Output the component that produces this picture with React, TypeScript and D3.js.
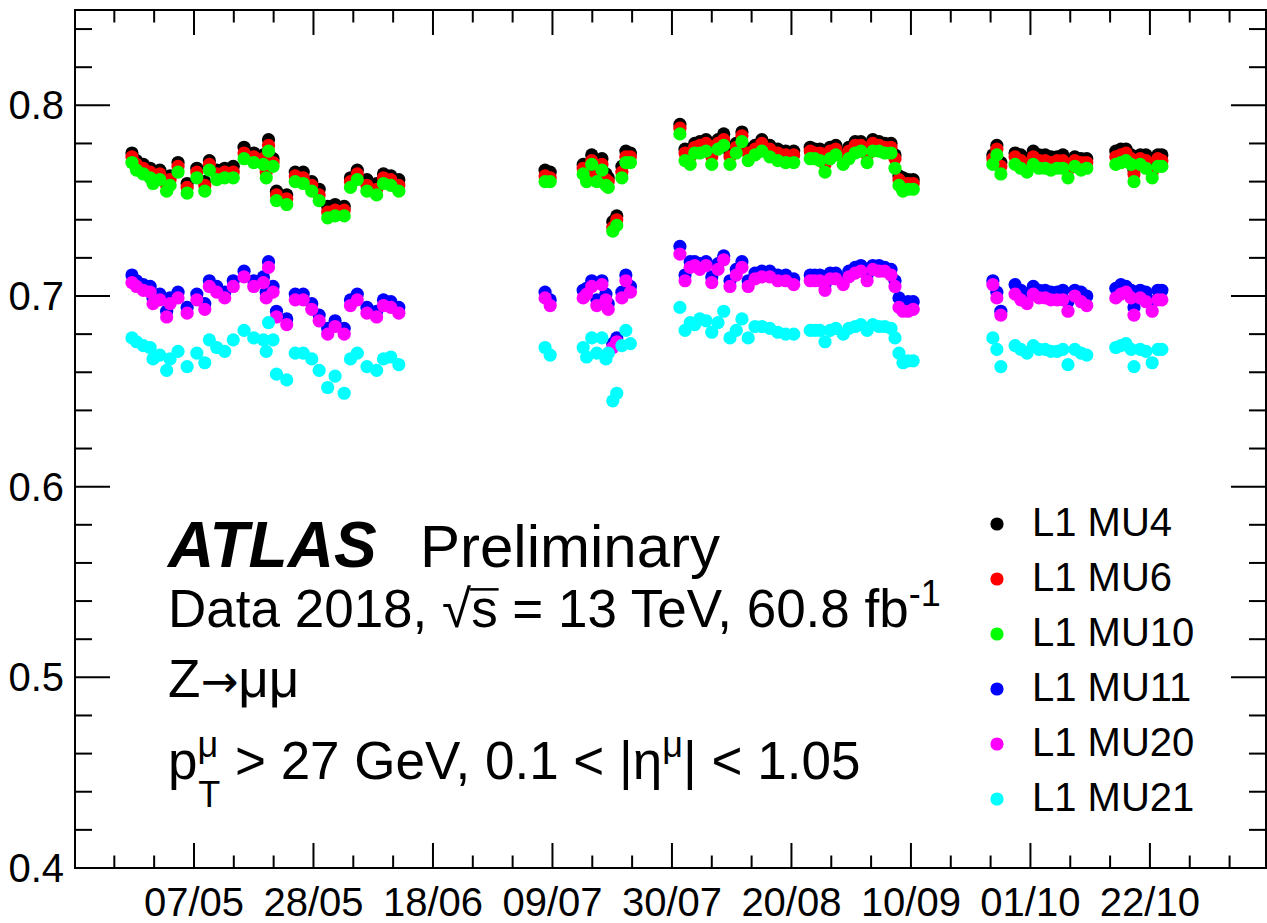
import React, { useEffect, useRef, useState } from "react";
import * as d3 from "d3";

// run day of year 2018 (fractional)
const runDays = [
  // April - June
  116.1, 116.9, 118.1, 119.3, 119.8, 121.0, 122.2, 122.8, 124.2, 125.8, 127.5, 128.9, 129.7,
  131.0, 132.4, 133.9, 135.8, 137.5, 139.2, 139.7, 140.1, 140.9, 141.5, 143.3, 144.8, 146.2,
  147.7, 149.0, 150.5, 151.8, 153.4, 154.5, 155.7, 157.4, 159.1, 160.3, 161.6, 163.0,
  // July
  188.7, 189.6, 195.4, 196.0, 196.9, 197.8, 198.7, 199.4, 199.8, 200.6, 201.3, 202.2, 202.9, 203.7,
  // August - September
  212.4, 213.3, 214.2, 215.0, 215.9, 217.0, 218.0, 219.1, 220.1, 221.2, 222.3, 223.3, 224.4,
  225.6, 226.8, 228.2, 229.6, 231.0, 232.4,
  235.3, 236.1, 237.0, 237.9, 238.8, 239.8, 241.1, 242.1, 243.2, 244.2, 245.3, 246.3, 247.4,
  248.4, 249.5, 250.2, 250.9, 251.6, 252.5, 253.4,
  // late September - October
  267.4, 268.1, 268.8, 271.3, 272.3, 273.4, 274.5, 275.5, 276.6, 277.6, 278.7, 279.7, 280.6,
  281.8, 282.9, 283.9, 289.0, 289.9, 290.8, 291.7, 292.2, 293.3, 294.3, 295.4, 296.4, 297.1,
];

const effMU4 = [
  0.775, 0.771, 0.769, 0.767, 0.764, 0.766, 0.760, 0.763, 0.770, 0.759, 0.767, 0.760, 0.771,
  0.766, 0.767, 0.768, 0.778, 0.775, 0.774, 0.767, 0.782, 0.772, 0.755, 0.753, 0.765, 0.765,
  0.760, 0.756, 0.747, 0.748, 0.747, 0.762, 0.766, 0.761, 0.759, 0.764, 0.763, 0.761,
  0.766, 0.765, 0.769, 0.765, 0.774, 0.766, 0.772, 0.764, 0.762, 0.739, 0.742, 0.768, 0.776, 0.775,
  0.790, 0.777, 0.775, 0.780, 0.781, 0.782, 0.775, 0.782, 0.785, 0.775, 0.780, 0.786, 0.777,
  0.779, 0.782, 0.779, 0.777, 0.776, 0.776,
  0.778, 0.777, 0.777, 0.771, 0.778, 0.779, 0.775, 0.778, 0.781, 0.781, 0.776, 0.782, 0.781,
  0.780, 0.780, 0.774, 0.763, 0.762, 0.761, 0.761,
  0.774, 0.779, 0.770, 0.775, 0.774, 0.772, 0.776, 0.774, 0.774, 0.773, 0.773, 0.774, 0.770,
  0.773, 0.772, 0.772, 0.776, 0.777, 0.777, 0.774, 0.766, 0.774, 0.774, 0.767, 0.774, 0.774,
];

const effMU6 = [
  0.773, 0.769, 0.767, 0.765, 0.762, 0.764, 0.758, 0.761, 0.768, 0.757, 0.765, 0.758, 0.769,
  0.764, 0.765, 0.765, 0.775, 0.773, 0.772, 0.765, 0.779, 0.770, 0.753, 0.751, 0.763, 0.762,
  0.758, 0.753, 0.744, 0.745, 0.745, 0.760, 0.764, 0.758, 0.756, 0.762, 0.761, 0.758,
  0.763, 0.762, 0.767, 0.763, 0.771, 0.763, 0.769, 0.761, 0.760, 0.736, 0.740, 0.765, 0.773, 0.773,
  0.788, 0.775, 0.773, 0.778, 0.779, 0.780, 0.773, 0.780, 0.782, 0.773, 0.778, 0.784, 0.775,
  0.777, 0.780, 0.777, 0.775, 0.774, 0.774,
  0.776, 0.775, 0.775, 0.769, 0.776, 0.777, 0.773, 0.776, 0.779, 0.779, 0.774, 0.780, 0.779,
  0.778, 0.778, 0.772, 0.761, 0.759, 0.759, 0.759,
  0.772, 0.777, 0.768, 0.773, 0.771, 0.769, 0.773, 0.771, 0.771, 0.770, 0.771, 0.771, 0.766,
  0.771, 0.770, 0.770, 0.773, 0.774, 0.775, 0.772, 0.764, 0.772, 0.771, 0.765, 0.772, 0.771,
];

const effMU10 = [
  0.770, 0.766, 0.764, 0.762, 0.759, 0.761, 0.755, 0.758, 0.765, 0.754, 0.762, 0.755, 0.766,
  0.761, 0.762, 0.762, 0.772, 0.770, 0.769, 0.762, 0.776, 0.768, 0.750, 0.748, 0.760, 0.759,
  0.755, 0.750, 0.741, 0.742, 0.742, 0.757, 0.761, 0.755, 0.753, 0.759, 0.758, 0.755,
  0.760, 0.760, 0.764, 0.760, 0.769, 0.760, 0.766, 0.758, 0.757, 0.734, 0.737, 0.762, 0.770, 0.770,
  0.785, 0.771, 0.769, 0.775, 0.775, 0.776, 0.769, 0.777, 0.779, 0.769, 0.775, 0.781, 0.771,
  0.774, 0.776, 0.773, 0.771, 0.770, 0.770,
  0.772, 0.772, 0.771, 0.765, 0.772, 0.774, 0.769, 0.772, 0.775, 0.776, 0.770, 0.776, 0.776,
  0.775, 0.775, 0.767, 0.758, 0.755, 0.756, 0.756,
  0.769, 0.774, 0.764, 0.769, 0.767, 0.765, 0.769, 0.767, 0.767, 0.766, 0.767, 0.767, 0.762,
  0.768, 0.766, 0.767, 0.769, 0.770, 0.771, 0.769, 0.760, 0.769, 0.767, 0.762, 0.768, 0.768,
];

const effMU11 = [
  0.711, 0.708, 0.706, 0.705, 0.699, 0.701, 0.692, 0.699, 0.702, 0.694, 0.701, 0.696, 0.708,
  0.705, 0.702, 0.708, 0.713, 0.708, 0.710, 0.702, 0.718, 0.705, 0.692, 0.688, 0.701, 0.701,
  0.696, 0.690, 0.683, 0.687, 0.683, 0.698, 0.701, 0.694, 0.692, 0.698, 0.697, 0.694,
  0.702, 0.698, 0.703, 0.704, 0.708, 0.698, 0.708, 0.701, 0.696, 0.675, 0.678, 0.702, 0.711, 0.705,
  0.726, 0.711, 0.718, 0.718, 0.717, 0.718, 0.710, 0.717, 0.721, 0.708, 0.714, 0.718, 0.708,
  0.712, 0.713, 0.713, 0.711, 0.711, 0.709,
  0.711, 0.711, 0.711, 0.706, 0.712, 0.712, 0.709, 0.713, 0.715, 0.716, 0.711, 0.716, 0.716,
  0.715, 0.714, 0.708, 0.699, 0.696, 0.697, 0.697,
  0.708, 0.702, 0.692, 0.706, 0.703, 0.701, 0.705, 0.703, 0.703, 0.702, 0.702, 0.703, 0.697,
  0.703, 0.702, 0.700, 0.704, 0.706, 0.705, 0.703, 0.694, 0.703, 0.702, 0.697, 0.703, 0.703,
];

const effMU20 = [
  0.707, 0.705, 0.703, 0.702, 0.696, 0.698, 0.689, 0.696, 0.699, 0.691, 0.698, 0.693, 0.705,
  0.702, 0.699, 0.705, 0.710, 0.705, 0.707, 0.699, 0.715, 0.702, 0.689, 0.685, 0.698, 0.698,
  0.693, 0.687, 0.680, 0.684, 0.680, 0.695, 0.698, 0.691, 0.689, 0.695, 0.694, 0.691,
  0.699, 0.695, 0.699, 0.701, 0.705, 0.695, 0.706, 0.698, 0.693, 0.673, 0.676, 0.699, 0.708, 0.702,
  0.722, 0.708, 0.715, 0.716, 0.714, 0.716, 0.707, 0.714, 0.719, 0.705, 0.711, 0.715, 0.705,
  0.709, 0.710, 0.710, 0.708, 0.708, 0.706,
  0.708, 0.708, 0.708, 0.703, 0.709, 0.709, 0.706, 0.710, 0.712, 0.713, 0.708, 0.714, 0.713,
  0.713, 0.711, 0.705, 0.694, 0.692, 0.692, 0.693,
  0.706, 0.699, 0.690, 0.701, 0.698, 0.696, 0.701, 0.699, 0.699, 0.698, 0.698, 0.698, 0.692,
  0.700, 0.697, 0.695, 0.699, 0.701, 0.702, 0.699, 0.690, 0.699, 0.697, 0.692, 0.698, 0.698,
];

const effMU21 = [
  0.678, 0.676, 0.674, 0.673, 0.667, 0.669, 0.661, 0.667, 0.671, 0.663, 0.670, 0.665, 0.677,
  0.673, 0.671, 0.677, 0.682, 0.678, 0.677, 0.671, 0.686, 0.677, 0.659, 0.656, 0.670, 0.670,
  0.667, 0.661, 0.652, 0.658, 0.649, 0.667, 0.670, 0.663, 0.661, 0.667, 0.668, 0.664,
  0.673, 0.669, 0.673, 0.668, 0.678, 0.670, 0.678, 0.667, 0.670, 0.645, 0.649, 0.674, 0.682, 0.675,
  0.694, 0.682, 0.686, 0.685, 0.688, 0.687, 0.681, 0.686, 0.692, 0.678, 0.682, 0.688, 0.678,
  0.684, 0.684, 0.683, 0.681, 0.680, 0.680,
  0.682, 0.682, 0.682, 0.676, 0.682, 0.683, 0.680, 0.683, 0.684, 0.685, 0.682, 0.685, 0.684,
  0.684, 0.683, 0.678, 0.670, 0.665, 0.666, 0.666,
  0.678, 0.672, 0.663, 0.674, 0.672, 0.670, 0.674, 0.672, 0.672, 0.671, 0.671, 0.672, 0.664,
  0.672, 0.670, 0.669, 0.673, 0.674, 0.675, 0.672, 0.663, 0.672, 0.671, 0.665, 0.672, 0.672,
];

const series = [
  { name: "L1 MU4", color: "#000000", values: effMU4 },
  { name: "L1 MU6", color: "#ff0000", values: effMU6 },
  { name: "L1 MU10", color: "#00ff00", values: effMU10 },
  { name: "L1 MU11", color: "#0000ff", values: effMU11 },
  { name: "L1 MU20", color: "#ff00ff", values: effMU20 },
  { name: "L1 MU21", color: "#00ffff", values: effMU21 },
];

const dateLabels = ["07/05", "28/05", "18/06", "09/07", "30/07", "20/08", "10/09", "01/10", "22/10"];
const yLabels = [0.4, 0.5, 0.6, 0.7, 0.8];

const W = 1267;
const H = 923;
const frame = { left: 75, top: 10, right: 1266, bottom: 868 };
const font = "'Liberation Sans', Arial, Helvetica, sans-serif";

const dayToDate = (d: number) => new Date(Date.UTC(2018, 0, 1) + (d - 1) * 864e5);
const parseLabel = d3.utcParse("%d/%m/%Y");

export default function App() {
  const sRef = useRef<SVGTSpanElement | null>(null);
  const [sqrtBar, setSqrtBar] = useState<{ x1: number; x2: number } | null>(null);

  useEffect(() => {
    if (!sRef.current) return;
    const b = sRef.current.getBBox();
    setSqrtBar({ x1: b.x - 1, x2: b.x + b.width + 1 });
  }, []);

  const x = d3
    .scaleUtc()
    .domain([dayToDate(106.09), dayToDate(315.4)])
    .range([frame.left, frame.right]);
  const y = d3.scaleLinear().domain([0.4, 0.85]).range([frame.bottom, frame.top]);

  const majorDates = dateLabels.map((l) => parseLabel(`${l}/2018`)!);
  const weekTicks = d3.utcMonday.range(x.domain()[0], x.domain()[1]);
  const isMajor = (d: Date) => d3.utcDay.count(majorDates[0], d) % 21 === 0;
  const yMinor = d3.range(20, 43).map((i) => i * 0.02);

  const textSize = 53;
  const supSize = 36;

  return (
    <svg
      width={W}
      height={H}
      style={{ position: "absolute", left: 0, top: 0, background: "#fff" }}
      fontFamily={font}
    >
      {/* markers */}
      {series.map((s) => (
        <g key={s.name} fill={s.color}>
          {s.values.map((v, i) => (
            <circle key={i} cx={x(dayToDate(runDays[i]))} cy={y(v)} r={6.6} />
          ))}
        </g>
      ))}

      {/* frame + ticks */}
      <rect
        x={frame.left}
        y={frame.top}
        width={frame.right - frame.left}
        height={frame.bottom - frame.top}
        fill="none"
        stroke="#000"
        strokeWidth={2}
      />
      <g stroke="#000" strokeWidth={2}>
        {weekTicks.map((d, i) => {
          const len = isMajor(d) ? 25 : 12.5;
          const px = x(d);
          return (
            <g key={i}>
              <line x1={px} x2={px} y1={frame.bottom} y2={frame.bottom - len} />
              <line x1={px} x2={px} y1={frame.top} y2={frame.top + len} />
            </g>
          );
        })}
        {yMinor.map((v, i) => {
          const len = i % 5 === 0 ? 35 : 17;
          const py = y(v);
          return (
            <g key={i}>
              <line x1={frame.left} x2={frame.left + len} y1={py} y2={py} />
              <line x1={frame.right} x2={frame.right - len} y1={py} y2={py} />
            </g>
          );
        })}
      </g>

      {/* tick labels */}
      <g fontSize={40} fill="#000">
        {majorDates.map((d, i) => (
          <text key={i} x={x(d)} y={916} textAnchor="middle">
            {dateLabels[i]}
          </text>
        ))}
        {yLabels.map((v) => (
          <text key={v} x={64} y={y(v) + 14} textAnchor="end">
            {v.toFixed(1)}
          </text>
        ))}
      </g>

      {/* ATLAS label block */}
      <g fill="#000">
        <text x={168} y={567} fontSize={64} fontWeight="bold" fontStyle="italic">
          ATLAS
        </text>
        <text x={420} y={567} fontSize={60}>
          Preliminary
        </text>
        <text x={168} y={627} fontSize={textSize}>
          {"Data 2018, √"}
          <tspan ref={sRef}>s</tspan>
          {" = 13 TeV, 60.8 fb"}
          <tspan fontSize={supSize} dy={-21}>
            -1
          </tspan>
        </text>
        {sqrtBar && (
          <line
            x1={sqrtBar.x1}
            x2={sqrtBar.x2}
            y1={627 - 0.71 * textSize}
            y2={627 - 0.71 * textSize}
            stroke="#000"
            strokeWidth={2.5}
          />
        )}
        <text x={168} y={697} fontSize={textSize}>
          Z
          <tspan fontFamily="'DejaVu Sans', sans-serif" fontSize={textSize * 0.85}>
            →
          </tspan>
          μμ
        </text>
        <text x={168} y={779} fontSize={textSize}>
          p
          <tspan fontSize={supSize} dy={-22}>
            μ
          </tspan>
          <tspan fontSize={supSize} dx={-20} dy={50}>
            T
          </tspan>
          <tspan dy={-28}>{" > 27 GeV, 0.1 < |η"}</tspan>
          <tspan fontSize={supSize} dy={-22}>
            μ
          </tspan>
          <tspan dy={22}>{"| < 1.05"}</tspan>
        </text>
      </g>

      {/* legend */}
      <g fontSize={40}>
        {series.map((s, i) => (
          <g key={s.name} transform={`translate(0,${522 + i * 55})`}>
            <circle cx={997} cy={2} r={6.6} fill={s.color} />
            <text x={1032} y={14} fill="#000">
              {s.name}
            </text>
          </g>
        ))}
      </g>
    </svg>
  );
}
